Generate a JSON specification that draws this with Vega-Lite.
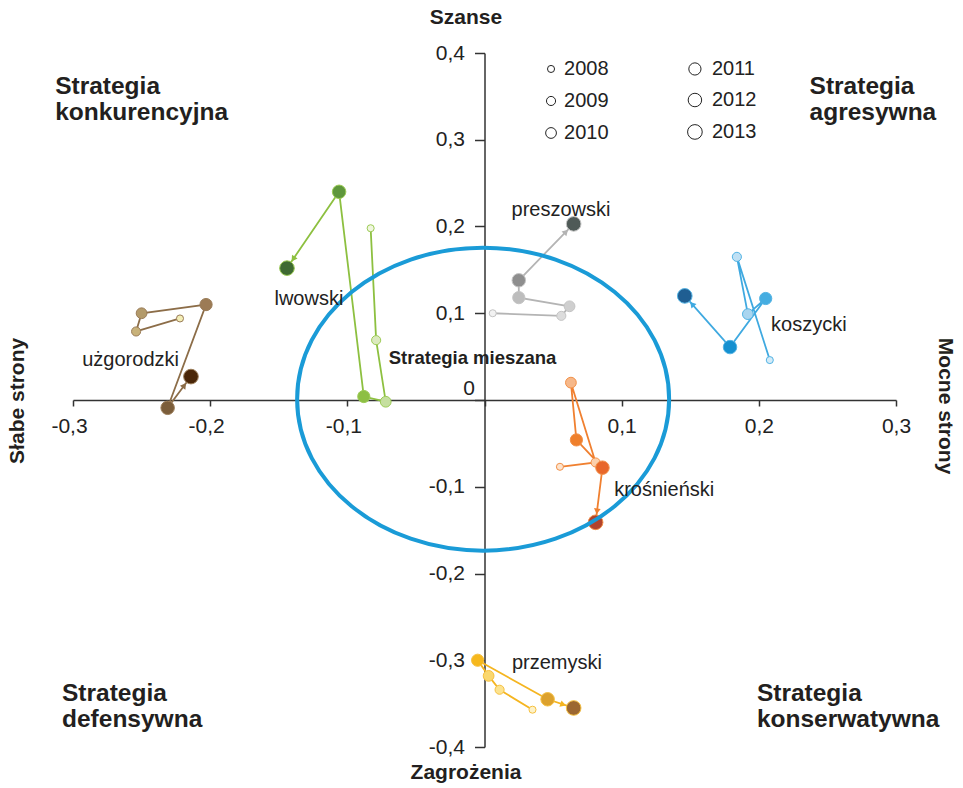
{
  "$schema": "https://vega.github.io/schema/vega-lite/v6.json",
  "width": 823,
  "height": 694,
  "autosize": {"type": "none"},
  "padding": {"left": 73, "top": 53, "right": 67, "bottom": 41},
  "background": "white",
  "config": {"view": {"stroke": null}, "font": "Liberation Sans"},
  "datasets": {
    "points": [
      {"region": "preszowski", "year": 2008, "x": 0.006, "y": 0.100},
      {"region": "preszowski", "year": 2009, "x": 0.056, "y": 0.097},
      {"region": "preszowski", "year": 2010, "x": 0.062, "y": 0.108},
      {"region": "preszowski", "year": 2011, "x": 0.025, "y": 0.118},
      {"region": "preszowski", "year": 2012, "x": 0.025, "y": 0.138},
      {"region": "preszowski", "year": 2013, "x": 0.065, "y": 0.203},
      {"region": "koszycki", "year": 2008, "x": 0.208, "y": 0.046},
      {"region": "koszycki", "year": 2009, "x": 0.184, "y": 0.165},
      {"region": "koszycki", "year": 2010, "x": 0.192, "y": 0.099},
      {"region": "koszycki", "year": 2011, "x": 0.205, "y": 0.117},
      {"region": "koszycki", "year": 2012, "x": 0.179, "y": 0.061},
      {"region": "koszycki", "year": 2013, "x": 0.146, "y": 0.120},
      {"region": "krosnienski", "year": 2008, "x": 0.055, "y": -0.077},
      {"region": "krosnienski", "year": 2009, "x": 0.081, "y": -0.072},
      {"region": "krosnienski", "year": 2010, "x": 0.063, "y": 0.020},
      {"region": "krosnienski", "year": 2011, "x": 0.067, "y": -0.046},
      {"region": "krosnienski", "year": 2012, "x": 0.086, "y": -0.078},
      {"region": "krosnienski", "year": 2013, "x": 0.081, "y": -0.141},
      {"region": "przemyski", "year": 2008, "x": 0.035, "y": -0.357},
      {"region": "przemyski", "year": 2009, "x": 0.011, "y": -0.334},
      {"region": "przemyski", "year": 2010, "x": 0.003, "y": -0.318},
      {"region": "przemyski", "year": 2011, "x": -0.005, "y": -0.300},
      {"region": "przemyski", "year": 2012, "x": 0.046, "y": -0.345},
      {"region": "przemyski", "year": 2013, "x": 0.065, "y": -0.355},
      {"region": "lwowski", "year": 2008, "x": -0.083, "y": 0.198},
      {"region": "lwowski", "year": 2009, "x": -0.079, "y": 0.069},
      {"region": "lwowski", "year": 2010, "x": -0.072, "y": -0.002},
      {"region": "lwowski", "year": 2011, "x": -0.088, "y": 0.004},
      {"region": "lwowski", "year": 2012, "x": -0.106, "y": 0.240},
      {"region": "lwowski", "year": 2013, "x": -0.144, "y": 0.152},
      {"region": "uzgorodzki", "year": 2008, "x": -0.222, "y": 0.094},
      {"region": "uzgorodzki", "year": 2009, "x": -0.254, "y": 0.079},
      {"region": "uzgorodzki", "year": 2010, "x": -0.250, "y": 0.100},
      {"region": "uzgorodzki", "year": 2011, "x": -0.203, "y": 0.110},
      {"region": "uzgorodzki", "year": 2012, "x": -0.231, "y": -0.009},
      {"region": "uzgorodzki", "year": 2013, "x": -0.214, "y": 0.027}
    ],
    "names": [
      {"text": "preszowski", "x": 0.0558, "y": 0.219},
      {"text": "koszycki", "x": 0.2365, "y": 0.0865},
      {"text": "krośnieński", "x": 0.131, "y": -0.1037},
      {"text": "przemyski", "x": 0.0528, "y": -0.303},
      {"text": "lwowski", "x": -0.128, "y": 0.116},
      {"text": "użgorodzki", "x": -0.258, "y": 0.046}
    ],
    "quadrants": [
      {"text": "Strategia\nkonkurencyjna", "x": -0.313, "y": 0.3751},
      {"text": "Strategia\nagresywna", "x": 0.237, "y": 0.3751},
      {"text": "Strategia\ndefensywna", "x": -0.308, "y": -0.3246},
      {"text": "Strategia\nkonserwatywna", "x": 0.1986, "y": -0.3246}
    ],
    "legend": [
      {"year": 2008, "x": 0.0485, "y": 0.3816},
      {"year": 2009, "x": 0.0485, "y": 0.3447},
      {"year": 2010, "x": 0.0485, "y": 0.3078},
      {"year": 2011, "x": 0.1534, "y": 0.3816},
      {"year": 2012, "x": 0.1534, "y": 0.3458},
      {"year": 2013, "x": 0.1534, "y": 0.309}
    ],
    "titlesH": [
      {"text": "Szanse", "x": -0.0135, "y": 0.44},
      {"text": "Zagrożenia", "x": -0.0135, "y": -0.43}
    ],
    "titleLeft": [{"text": "Słabe strony", "x": -0.34, "y": -0.001}],
    "titleRight": [{"text": "Mocne strony", "x": 0.3356, "y": -0.007}],
    "ellipse": [{"x": -0.001, "y": 0.001}],
    "center": [{"text": "Strategia mieszana", "x": -0.0087, "y": 0.0484}]
  },
  "encoding": {
    "x": {
      "field": "x", "type": "quantitative",
      "scale": {"domain": [-0.3, 0.3], "nice": false, "zero": false},
      "axis": {
        "orient": "bottom", "offset": -347, "title": null, "grid": false,
        "values": [-0.3, -0.2, -0.1, 0, 0.1, 0.2, 0.3],
        "labelExpr": "datum.value == 0 ? '' : (datum.value < 0 ? '-' : '') + replace(format(abs(datum.value), '.1f'), '.', ',')",
        "domainColor": "#333333", "domainWidth": 1.5,
        "tickColor": "#333333", "tickWidth": 1.5, "tickSize": 6,
        "labelFont": "Liberation Sans", "labelFontSize": 21, "labelColor": "#222222",
        "labelPadding": 9, "labelFlush": false, "labelOverlap": false, "labelBound": false,
        "labelOffset": {"condition": {"test": "datum.value < 0", "value": -4}, "value": 0}
      }
    },
    "y": {
      "field": "y", "type": "quantitative",
      "scale": {"domain": [-0.4, 0.4], "nice": false, "zero": false},
      "axis": {
        "orient": "left", "offset": -411.5, "title": null, "grid": false,
        "values": [-0.4, -0.3, -0.2, -0.1, 0, 0.1, 0.2, 0.3, 0.4],
        "labelExpr": "datum.value == 0 ? '0' : (datum.value < 0 ? '-' : '') + replace(format(abs(datum.value), '.1f'), '.', ',')",
        "domainColor": "#333333", "domainWidth": 1.5,
        "tickColor": "#333333", "tickWidth": 1.5, "tickSize": 10,
        "labelFont": "Liberation Sans", "labelFontSize": 21, "labelColor": "#222222",
        "labelFlush": false, "labelOverlap": false, "labelBound": false,
        "labelPadding": {"condition": {"test": "datum.value == 0", "value": 0}, "value": 10},
        "labelOffset": {"condition": {"test": "datum.value == 0", "value": -12}, "value": 0}
      }
    }
  },
  "layer": [
    {
      "data": {"name": "points"},
      "mark": {"type": "line", "strokeWidth": 1.8, "clip": false},
      "encoding": {
        "color": {
          "field": "region", "type": "nominal", "legend": null,
          "scale": {
            "domain": ["preszowski", "koszycki", "krosnienski", "przemyski", "lwowski", "uzgorodzki"],
            "range": ["#b4b4b4", "#3fa9e0", "#f08030", "#f5b520", "#8dc040", "#8c6d48"]
          }
        },
        "order": {"field": "year", "type": "quantitative"}
      }
    },
    {
      "data": {"name": "points"},
      "transform": [{"calculate": "datum.region + datum.year", "as": "key"}],
      "mark": {"type": "point", "filled": true, "opacity": 1, "strokeWidth": 1},
      "encoding": {
        "fill": {
          "field": "key", "type": "nominal", "legend": null,
          "scale": {
            "domain": [
              "preszowski2008", "preszowski2009", "preszowski2010", "preszowski2011", "preszowski2012", "preszowski2013",
              "koszycki2008", "koszycki2009", "koszycki2010", "koszycki2011", "koszycki2012", "koszycki2013",
              "krosnienski2008", "krosnienski2009", "krosnienski2010", "krosnienski2011", "krosnienski2012", "krosnienski2013",
              "przemyski2008", "przemyski2009", "przemyski2010", "przemyski2011", "przemyski2012", "przemyski2013",
              "lwowski2008", "lwowski2009", "lwowski2010", "lwowski2011", "lwowski2012", "lwowski2013",
              "uzgorodzki2008", "uzgorodzki2009", "uzgorodzki2010", "uzgorodzki2011", "uzgorodzki2012", "uzgorodzki2013"
            ],
            "range": [
              "#f2f2f2", "#dcdcdc", "#cfcfcf", "#bdbdbd", "#8e8e8e", "#4f5a57",
              "#d3ebf8", "#bfe0f4", "#a9d5ef", "#45ade1", "#1590d0", "#1f5e92",
              "#fde3cc", "#fbd0ac", "#f6b88a", "#ef7f2b", "#e8672a", "#b2432c",
              "#fdf2c8", "#fce38f", "#fad76e", "#f6b81d", "#dca12d", "#9c6731",
              "#f0f6df", "#dbeabe", "#c5df9f", "#8dbf44", "#5f973c", "#3e6a32",
              "#f3eeb6", "#c8b27a", "#b39a6a", "#9c7b55", "#7b5d3a", "#4a2608"
            ]
          }
        },
        "stroke": {
          "field": "region", "type": "nominal", "legend": null,
          "scale": {
            "domain": ["preszowski", "koszycki", "krosnienski", "przemyski", "lwowski", "uzgorodzki"],
            "range": ["#c4c4c4", "#52b3e4", "#f29048", "#f6c040", "#9ccb55", "#9a7c58"]
          }
        },
        "size": {
          "field": "year", "type": "quantitative", "legend": null,
          "scale": {"domain": [2008, 2013], "range": [50, 215], "zero": false}
        }
      }
    },
    {
      "data": {"name": "points"},
      "transform": [
        {"window": [{"op": "lag", "field": "x", "as": "px"}, {"op": "lag", "field": "y", "as": "py"}], "groupby": ["region"], "sort": [{"field": "year", "order": "ascending"}]},
        {"filter": "datum.year == 2013"},
        {"calculate": "atan2((datum.x - datum.px) * 1372, (datum.y - datum.py) * 867.5)", "as": "a"},
        {"calculate": "datum.x - 11 * sin(datum.a) / 1372", "as": "x"},
        {"calculate": "datum.y - 11 * cos(datum.a) / 867.5", "as": "y"},
        {"calculate": "datum.a * 180 / PI", "as": "deg"}
      ],
      "mark": {"type": "point", "shape": "triangle-up", "filled": true, "opacity": 1, "size": 45},
      "encoding": {
        "color": {"field": "region", "type": "nominal", "legend": null},
        "angle": {"field": "deg", "type": "quantitative", "scale": null}
      }
    },
    {
      "data": {"name": "ellipse"},
      "mark": {
        "type": "point", "filled": false, "opacity": 1,
        "shape": "M -1 0 C -1 -0.4499 -0.5523 -0.8145 0 -0.8145 C 0.5523 -0.8145 1 -0.4499 1 0 C 1 0.4499 0.5523 0.8145 0 0.8145 C -0.5523 0.8145 -1 0.4499 -1 0 Z",
        "size": 138384, "stroke": "#1a9bd7", "strokeWidth": 4
      }
    },
    {
      "data": {"name": "legend"},
      "mark": {"type": "point", "filled": false, "opacity": 1, "stroke": "#222222", "strokeWidth": 1, "fill": "white"},
      "encoding": {
        "size": {"field": "year", "type": "quantitative", "legend": null}
      }
    },
    {
      "data": {"name": "legend"},
      "mark": {"type": "text", "align": "left", "baseline": "middle", "dx": {"expr": "datum.year > 2010 ? 17 : 13"}, "fontSize": 20, "font": "Liberation Sans", "color": "#222222"},
      "encoding": {"text": {"field": "year", "type": "nominal"}}
    },
    {
      "data": {"name": "names"},
      "mark": {"type": "text", "align": "center", "baseline": "middle", "fontSize": 20, "font": "Liberation Sans", "color": "#222222"},
      "encoding": {"text": {"field": "text", "type": "nominal"}}
    },
    {
      "data": {"name": "quadrants"},
      "mark": {"type": "text", "align": "left", "baseline": "top", "fontSize": 24.5, "fontWeight": "bold", "font": "Liberation Sans", "color": "#231f20", "lineBreak": "\n", "lineHeight": 26},
      "encoding": {"text": {"field": "text", "type": "nominal"}}
    },
    {
      "data": {"name": "center"},
      "mark": {"type": "text", "align": "center", "baseline": "middle", "fontSize": 18.5, "fontWeight": "bold", "font": "Liberation Sans", "color": "#231f20"},
      "encoding": {"text": {"field": "text", "type": "nominal"}}
    },
    {
      "data": {"name": "titlesH"},
      "mark": {"type": "text", "align": "center", "baseline": "middle", "fontSize": 21, "fontWeight": "bold", "font": "Liberation Sans", "color": "#231f20"},
      "encoding": {"text": {"field": "text", "type": "nominal"}}
    },
    {
      "data": {"name": "titleLeft"},
      "mark": {"type": "text", "align": "center", "baseline": "middle", "angle": 270, "fontSize": 21, "fontWeight": "bold", "font": "Liberation Sans", "color": "#231f20"},
      "encoding": {"text": {"field": "text", "type": "nominal"}}
    },
    {
      "data": {"name": "titleRight"},
      "mark": {"type": "text", "align": "center", "baseline": "middle", "angle": 90, "fontSize": 21, "fontWeight": "bold", "font": "Liberation Sans", "color": "#231f20"},
      "encoding": {"text": {"field": "text", "type": "nominal"}}
    }
  ]
}
